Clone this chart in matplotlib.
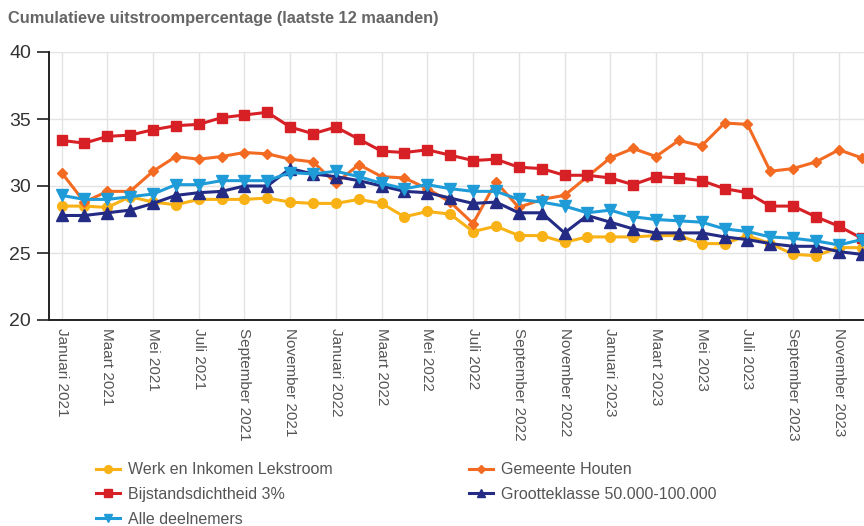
import matplotlib.pyplot as plt

plt.rcParams['font.family'] = ['Liberation Sans', 'DejaVu Sans']

maanden = ['Januari', 'Februari', 'Maart', 'April', 'Mei', 'Juni', 'Juli',
           'Augustus', 'September', 'Oktober', 'November', 'December']
labels = [f'{m} {j}' for j in (2021, 2022, 2023) for m in maanden]

werk_lekstroom = [28.5, 28.5, 28.4, 29.2, 28.8, 28.6, 29.0, 29.0, 29.0, 29.1, 28.8, 28.7,
                  28.7, 29.0, 28.7, 27.7, 28.1, 27.9, 26.6, 27.0, 26.3, 26.3, 25.8, 26.2,
                  26.2, 26.2, 26.3, 26.3, 25.7, 25.7, 26.3, 25.7, 24.9, 24.8, 25.4, 25.4]
gemeente_houten = [31.0, 28.8, 29.6, 29.6, 31.1, 32.2, 32.0, 32.2, 32.5, 32.4, 32.0, 31.8,
                   30.2, 31.6, 30.7, 30.6, 29.8, 28.8, 27.2, 30.3, 28.4, 29.0, 29.3, 30.7,
                   32.1, 32.8, 32.2, 33.4, 33.0, 34.7, 34.6, 31.1, 31.3, 31.8, 32.7, 32.1]
bijstand_3 = [33.4, 33.2, 33.7, 33.8, 34.2, 34.5, 34.6, 35.1, 35.3, 35.5, 34.4, 33.9,
              34.4, 33.5, 32.6, 32.5, 32.7, 32.3, 31.9, 32.0, 31.4, 31.3, 30.8, 30.8,
              30.6, 30.1, 30.7, 30.6, 30.4, 29.8, 29.5, 28.5, 28.5, 27.7, 27.0, 26.1]
grootteklasse = [27.8, 27.8, 28.0, 28.2, 28.7, 29.3, 29.5, 29.6, 30.0, 30.0, 31.3, 30.9,
                 30.7, 30.4, 30.0, 29.6, 29.5, 29.1, 28.7, 28.8, 28.0, 28.0, 26.5, 27.8,
                 27.3, 26.8, 26.5, 26.5, 26.5, 26.2, 26.0, 25.7, 25.5, 25.5, 25.1, 24.9]
alle_deelnemers = [29.3, 29.0, 29.0, 29.2, 29.4, 30.1, 30.1, 30.4, 30.4, 30.4, 31.0, 30.9,
                   31.1, 30.7, 30.2, 29.8, 30.1, 29.8, 29.6, 29.6, 29.0, 28.8, 28.5, 28.0,
                   28.2, 27.7, 27.5, 27.4, 27.3, 26.8, 26.6, 26.2, 26.1, 25.9, 25.6, 26.0]

x = list(range(len(labels)))

fig = plt.figure(figsize=(8.64, 5.26), dpi=100)
ax = fig.add_axes([49 / 864, 1 - 320 / 526, (864 - 49) / 864, 268 / 526])

series = [
    (werk_lekstroom, 'Werk en Inkomen Lekstroom', '#F9B216', 'o', 7),
    (gemeente_houten, 'Gemeente Houten', '#F36B22', 'D', 5.5),
    (bijstand_3, 'Bijstandsdichtheid 3%', '#D71F26', 's', 7.5),
    (grootteklasse, 'Grootteklasse 50.000-100.000', '#232B84', '^', 8),
    (alle_deelnemers, 'Alle deelnemers', '#1F9CD8', 'v', 8),
]
handles = {}
for vals, name, col, mk, ms in series:
    h, = ax.plot(x, vals, color=col, lw=2.2, marker=mk, markersize=ms,
                 label=name, clip_on=False)
    handles[name] = h

ax.set_ylim(20, 40)
ax.set_yticks([20, 25, 30, 35, 40])
ax.set_xlim(-0.55, 35.1)
ax.set_xticks(x[::2])
ax.set_xticklabels(labels[::2], rotation=270, fontsize=11, color='#555555')
ax.tick_params(axis='y', labelsize=14, colors='#333333', length=9, width=1.3, pad=4)
ax.tick_params(axis='x', length=0, pad=6)
ax.grid(True, color='#e3e3e3', lw=1)
ax.set_axisbelow(True)
for s in ['top', 'right']:
    ax.spines[s].set_visible(False)
for s in ['left', 'bottom']:
    ax.spines[s].set_color('#222222')
    ax.spines[s].set_linewidth(1.4)

fig.text(8 / 864, 1 - 18 / 526, 'Cumulatieve uitstroompercentage (laatste 12 maanden)',
         fontsize=11.8, fontweight='bold', color='#666666', va='center')

order = ['Werk en Inkomen Lekstroom', 'Bijstandsdichtheid 3%', 'Alle deelnemers',
         'Gemeente Houten', 'Grootteklasse 50.000-100.000']
leg = fig.legend([handles[n] for n in order], order, ncol=2, frameon=False,
                 loc='upper left', bbox_to_anchor=(82 / 864, 1 - 448 / 526),
                 fontsize=11.5, handlelength=1.5, handletextpad=0.5,
                 columnspacing=8.5, labelspacing=0.6, markerscale=0.8)
for t in leg.get_texts():
    t.set_color('#555555')

fig.savefig('out.png', dpi=100)
